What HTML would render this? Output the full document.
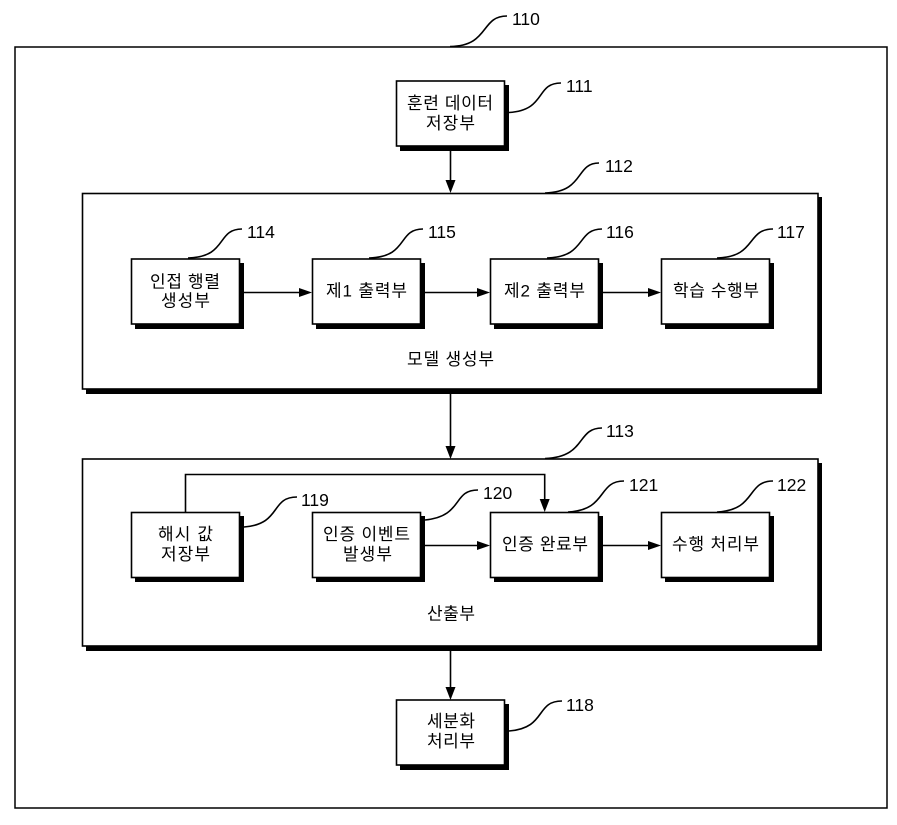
<!DOCTYPE html>
<html lang="ko">
<head>
<meta charset="utf-8">
<style>
html,body{margin:0;padding:0;background:#fff;width:897px;height:825px;overflow:hidden}
svg{display:block}
text{font-family:"Liberation Sans","Noto Sans CJK KR",sans-serif;fill:#000}
.k{font-size:17px}
.n{font-size:17.5px}
.b{fill:#fff;stroke:#000;stroke-width:1.6}
.s{fill:#000}
.l{fill:none;stroke:#000;stroke-width:1.6}
.a{fill:#000}
</style>
</head>
<body>
<svg width="897" height="825" viewBox="0 0 897 825" xmlns="http://www.w3.org/2000/svg">
<rect x="15" y="47" width="872" height="761" fill="#fff" stroke="#000" stroke-width="1.5"/>

<!-- large containers -->
<rect class="s" x="86" y="197" width="736" height="197"/>
<rect class="b" x="82.5" y="193.5" width="735.5" height="195.5"/>
<rect class="s" x="86" y="463" width="736" height="188"/>
<rect class="b" x="82.5" y="459" width="735.5" height="187"/>

<!-- inner box shadows -->
<rect class="s" x="400" y="85" width="109" height="66"/>
<rect class="s" x="400" y="704" width="109" height="66"/>
<rect class="s" x="135" y="263" width="109" height="66"/>
<rect class="s" x="316" y="263" width="109" height="66"/>
<rect class="s" x="494" y="263" width="109" height="66"/>
<rect class="s" x="665" y="263" width="109" height="66"/>
<rect class="s" x="135" y="516" width="109" height="66"/>
<rect class="s" x="316" y="516" width="109" height="66"/>
<rect class="s" x="494" y="516" width="109" height="66"/>
<rect class="s" x="665" y="516" width="109" height="66"/>

<!-- inner boxes -->
<rect class="b" x="396.5" y="81" width="108" height="65"/>
<rect class="b" x="396.5" y="700" width="108" height="65"/>
<rect class="b" x="131.5" y="259" width="108" height="65"/>
<rect class="b" x="312.5" y="259" width="108" height="65"/>
<rect class="b" x="490.5" y="259" width="108" height="65"/>
<rect class="b" x="661.5" y="259" width="108" height="65"/>
<rect class="b" x="131.5" y="512.5" width="108" height="65"/>
<rect class="b" x="312.5" y="512.5" width="108" height="65"/>
<rect class="b" x="490.5" y="512.5" width="108" height="65"/>
<rect class="b" x="661.5" y="512.5" width="108" height="65"/>

<!-- connectors -->
<path class="l" d="M450.5 151V182"/><path class="a" d="M445.5 180H455.5L450.5 193Z"/>
<path class="l" d="M450.5 394V448"/><path class="a" d="M445.5 446H455.5L450.5 459Z"/>
<path class="l" d="M450.5 651V688"/><path class="a" d="M445.5 687H455.5L450.5 700Z"/>
<path class="l" d="M244 292.5H300"/><path class="a" d="M299 288L312 292.5L299 297Z"/>
<path class="l" d="M425 292.5H478"/><path class="a" d="M477 288L490 292.5L477 297Z"/>
<path class="l" d="M603 292.5H650"/><path class="a" d="M648 288L661 292.5L648 297Z"/>
<path class="l" d="M425 545.5H478"/><path class="a" d="M477 541L490 545.5L477 550Z"/>
<path class="l" d="M603 545.5H650"/><path class="a" d="M648 541L661 545.5L648 550Z"/>
<path class="l" d="M185.5 512V474.5H544.7V500"/><path class="a" d="M539.7 499H549.7L544.7 512Z"/>

<!-- leaders -->
<path class="l" d="M450 46.5C490 46 480 16 507 16"/>
<path class="l" d="M509 112.5C547 110 535 83 561 83"/>
<path class="l" d="M545 193C585 192 575 163 599 163"/>
<path class="l" d="M188 258C228 257 216 229 242 229"/>
<path class="l" d="M369 258C409 257 397 229 423 229"/>
<path class="l" d="M547 258C587 257 576 229 602 229"/>
<path class="l" d="M717 258C757 257 746 229 773 229"/>
<path class="l" d="M244 527C282 524 270 497 297 497"/>
<path class="l" d="M425 520C464 516 452 490 478 490"/>
<path class="l" d="M568 512C608 510 597 481 624 481"/>
<path class="l" d="M717 512C757 510 746 481 773 481"/>
<path class="l" d="M545 458.5C587 457 576 428 602 428"/>
<path class="l" d="M509 731C547 728 535 701 562 701"/>

<!-- numbers -->
<text class="n" x="512" y="25">110</text>
<text class="n" x="566" y="92">111</text>
<text class="n" x="605" y="172">112</text>
<text class="n" x="606" y="437">113</text>
<text class="n" x="247" y="238">114</text>
<text class="n" x="428" y="238">115</text>
<text class="n" x="606" y="238">116</text>
<text class="n" x="777" y="238">117</text>
<text class="n" x="566" y="711">118</text>
<text class="n" x="301" y="506">119</text>
<text class="n" x="483" y="499">120</text>
<text class="n" x="629" y="491">121</text>
<text class="n" x="777" y="491">122</text>

<!-- labels -->
<text class="k" x="407" y="109" textLength="86" lengthAdjust="spacing">훈련 데이터</text>
<text class="k" x="426" y="129" textLength="49" lengthAdjust="spacing">저장부</text>
<text class="k" x="150" y="287.5" textLength="70" lengthAdjust="spacing">인접 행렬</text>
<text class="k" x="161" y="306.5" textLength="49" lengthAdjust="spacing">생성부</text>
<text class="k" x="326" y="296.5" textLength="81" lengthAdjust="spacing">제1 출력부</text>
<text class="k" x="504" y="296.5" textLength="81" lengthAdjust="spacing">제2 출력부</text>
<text class="k" x="673" y="296.5" textLength="86" lengthAdjust="spacing">학습 수행부</text>
<text class="k" x="407" y="365" textLength="87" lengthAdjust="spacing">모델 생성부</text>
<text class="k" x="158" y="540" textLength="55" lengthAdjust="spacing">해시 값</text>
<text class="k" x="161" y="560" textLength="49" lengthAdjust="spacing">저장부</text>
<text class="k" x="323" y="540" textLength="87" lengthAdjust="spacing">인증 이벤트</text>
<text class="k" x="343" y="560" textLength="49" lengthAdjust="spacing">발생부</text>
<text class="k" x="502" y="550" textLength="86" lengthAdjust="spacing">인증 완료부</text>
<text class="k" x="672" y="550" textLength="87" lengthAdjust="spacing">수행 처리부</text>
<text class="k" x="427" y="619.5" textLength="48" lengthAdjust="spacing">산출부</text>
<text class="k" x="427" y="727" textLength="48" lengthAdjust="spacing">세분화</text>
<text class="k" x="427" y="747" textLength="48" lengthAdjust="spacing">처리부</text>
</svg>
</body>
</html>
